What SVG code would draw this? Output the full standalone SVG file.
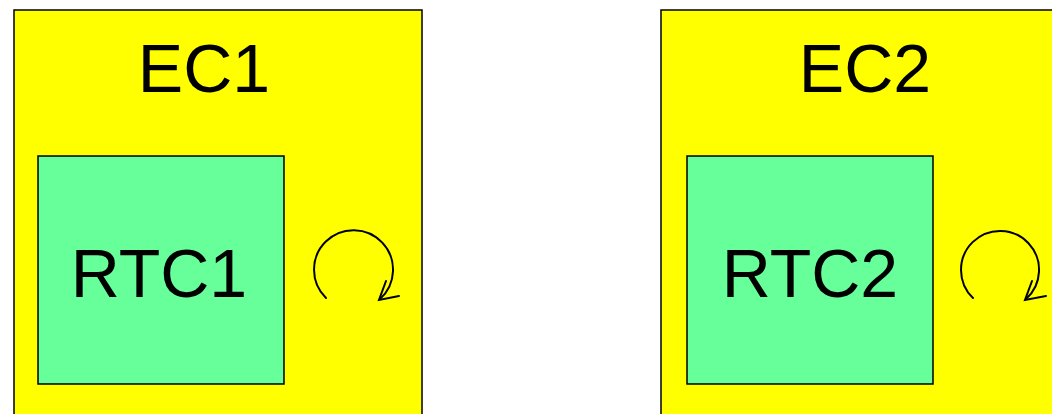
<svg xmlns="http://www.w3.org/2000/svg" width="1052" height="414" viewBox="0 0 1052 414">
<style>
.ec{fill:#FFFF00;stroke:#000;stroke-width:1.5}
.rtc{fill:#66FF99;stroke:#000;stroke-width:1.5}
.lbl{font-family:"Liberation Sans",Arial,sans-serif;font-size:68px;fill:#000;text-anchor:middle}
.loop{fill:none;stroke:#000;stroke-width:2;stroke-linecap:round}
</style>
<rect width="1052" height="414" fill="#fff"/>
<g id="EC1">
<rect class="ec" x="14" y="10" width="408" height="420"/>
<text class="lbl" x="204" y="92">EC1</text>
</g>
<g id="RTC1">
<rect class="rtc" x="38" y="156" width="246" height="228"/>
<text class="lbl" x="159" y="297">RTC1</text>
</g>
<g id="EC2">
<rect class="ec" x="661" y="10" width="408" height="420"/>
<text class="lbl" x="865" y="92">EC2</text>
</g>
<g id="RTC2">
<rect class="rtc" x="687" y="156" width="246" height="228"/>
<text class="lbl" x="810" y="297">RTC2</text>
</g>
<g id="connectors">
<path class="loop" d="M326,298 A39.5,39.5 0 1 1 380,299"/>
<path class="loop" d="M386,281 L379,300 L399,296"/>
<path class="loop" d="M973,298 A39,39 0 1 1 1026,299"/>
<path class="loop" d="M1032,281 L1025,300 L1046,296"/>
</g>
</svg>
